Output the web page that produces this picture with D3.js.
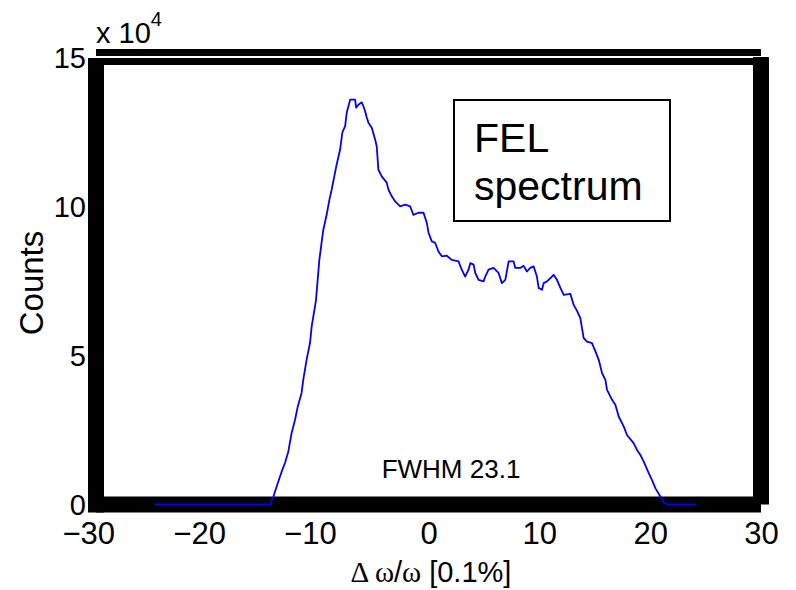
<!DOCTYPE html>
<html>
<head>
<meta charset="utf-8">
<title>FEL spectrum</title>
<script src="https://cdn.jsdelivr.net/npm/d3@7"></script>
<style>
  body { margin: 0; background: #fff; }
  text { font-family: Helvetica, "Liberation Sans", Arial, sans-serif; fill: #000; }
</style>
</head>
<body>
<div id="chart"></div>
<script>
// spectrum, x in 0.1% units, counts in units of 1e4
const specX = [-24.7, -14.3, -14.0, -13.55, -13.25, -12.95, -12.65, -12.35, -12.04, -11.8, -11.45, -11.3, -11.0,
  -10.69, -10.54, -10.24, -10.15, -9.85, -9.49, -9.19, -8.94, -8.74, -8.5, -8.29, -7.98, -7.77, -7.52, -7.38,
  -7.07, -6.62, -6.53, -6.32, -6.03, -5.87, -5.72, -5.57, -5.42, -5.12, -4.81, -4.67, -4.52, -4.22, -3.77,
  -3.61, -3.31, -3.01, -2.56, -2.1, -1.65, -1.36, -0.9, -0.45, -0.15, 0, 0.3, 0.6, 0.9, 1.2, 1.65, 2.1, 2.71,
  3.0, 3.31, 3.61, 3.77, 4.07, 4.22, 4.52, 4.97, 5.12, 5.42, 5.87, 6.32, 6.62, 6.93, 7.23, 7.68, 7.83, 8.28,
  8.58, 8.88, 9.18, 9.49, 9.78, 9.94, 10.24, 10.39, 10.69, 11.0, 11.29, 11.59, 11.9, 12.2, 12.8, 13.1, 13.4,
  13.7, 13.85, 14.0, 14.3, 14.75, 15.06, 15.36, 15.66, 15.96, 16.11, 16.56, 16.86, 17.16, 17.62, 17.91, 18.52,
  18.81, 19.12, 19.42, 19.87, 20.17, 20.48, 20.93, 21.23, 21.53, 24.1];
const specY = [0, 0, 0.26, 0.77, 1.10, 1.39, 1.77, 2.40, 2.84, 3.28, 3.74, 4.18, 4.85,
  5.42, 5.97, 6.64, 6.86, 8.2, 9.21, 9.71, 10.22, 10.55, 11.0, 11.39, 11.89, 12.47, 12.68, 13.13,
  13.57, 13.57, 13.3, 13.4, 13.48, 13.35, 13.18, 12.97, 12.8, 12.63, 12.23, 12.0, 11.22, 11.0, 10.79,
  10.55, 10.33, 10.16, 9.99, 10.05, 9.99, 9.71, 9.78, 9.78, 9.44, 9.11, 8.82, 8.77, 8.48, 8.32, 8.34, 8.2, 8.15,
  7.87, 7.64, 7.87, 8.09, 8.04, 7.76, 7.53, 7.48, 7.64, 7.87, 7.93, 7.76, 7.42, 7.53, 8.15, 8.15, 7.93, 7.93,
  8.0, 7.81, 7.93, 7.98, 7.64, 7.26, 7.2, 7.42, 7.48, 7.59, 7.7, 7.53, 7.26, 7.03, 7.06, 6.69, 6.49,
  6.25, 5.91, 5.58, 5.46, 5.41, 5.13, 4.85, 4.4, 4.18, 3.84, 3.51, 3.34, 2.95, 2.61, 2.33, 2.05,
  1.83, 1.66, 1.44, 1.05, 0.82, 0.54, 0.26, 0.06, 0, 0];

const xTicks = [-30, -20, -10, 0, 10, 20, 30];
const yTicks = [0, 5, 10, 15];
const legendLines = ["FEL", "spectrum"];
const fwhmText = "FWHM 23.1";

const W = 796, H = 590;
const lw = 16; // the very fat axes line

const svg = d3.select("#chart").append("svg")
  .attr("width", W).attr("height", H);

const x = d3.scaleLinear().domain([-30, 30]).range([96, 761]);
const y = d3.scaleLinear().domain([0, 15]).range([504.5, 57]);

// axes box - drawn as filled bars, top edge has that odd split in it
function bar(x0, y0, x1, y1) {
  svg.append("rect")
    .attr("x", x0).attr("y", y0)
    .attr("width", x1 - x0).attr("height", y1 - y0)
    .attr("fill", "#000");
}
const L = x(-30), R = x(30), T = y(15), B = y(0);
bar(L, T - lw / 2, R, T - 1);              // top, upper half
bar(L - lw / 2, T + 1, R, T + lw / 2);     // top, lower half
bar(L - lw / 2, T + 1, L + lw / 2, B + lw / 2); // left
bar(R - lw / 2, T, R + lw / 2, B);         // right
bar(L, B - lw / 2, R, B + lw / 2);         // bottom

// x axis labels
const xAxis = d3.axisBottom(x).tickValues(xTicks).tickSize(0);
const gx = svg.append("g").attr("transform", `translate(0,${B})`).call(xAxis);
gx.select(".domain").remove();
gx.selectAll("text")
  .attr("y", 39).attr("dy", null)
  .attr("dx", d => d < 0 ? "-0.25em" : null)
  .style("font-size", "31px")
  .style("font-family", 'Helvetica, "Liberation Sans", Arial, sans-serif');

// y axis labels
const yAxis = d3.axisLeft(y).tickValues(yTicks).tickSize(0).tickFormat(d3.format("d"));
const gy = svg.append("g").attr("transform", `translate(${L},0)`).call(yAxis);
gy.select(".domain").remove();
gy.selectAll("text")
  .attr("x", -10).attr("dy", "0.36em")
  .style("font-size", "29px")
  .style("font-family", 'Helvetica, "Liberation Sans", Arial, sans-serif');

// exponent
const ex = svg.append("text").attr("x", 96).attr("y", 43).style("font-size", "29px");
ex.append("tspan").text("x 10");
ex.append("tspan").attr("dy", -17).style("font-size", "20px").text("4");

// axis titles
svg.append("text")
  .attr("transform", "translate(43,283) rotate(-90)")
  .attr("text-anchor", "middle")
  .style("font-size", "33px")
  .text("Counts");

const xl = svg.append("text")
  .attr("x", 431).attr("y", 582)
  .attr("text-anchor", "middle")
  .style("font-size", "29px");
const serif = '"Liberation Serif", "DejaVu Serif", serif';
xl.append("tspan").style("font-family", serif).text("\u0394 \u03C9");
xl.append("tspan").text("/");
xl.append("tspan").style("font-family", serif).text("\u03C9");
xl.append("tspan").text(" [0.1%]");

// the spectrum itself
const pts = specX.map((v, i) => [v, specY[i]]);
const line = d3.line().x(d => x(d[0])).y(d => y(d[1]));
svg.append("path")
  .datum(pts)
  .attr("d", line)
  .attr("fill", "none")
  .attr("stroke", "#0000ff")
  .attr("stroke-width", 1.8)
  .attr("stroke-linejoin", "round");

// annotation box
svg.append("rect")
  .attr("x", 454).attr("y", 100)
  .attr("width", 216).attr("height", 121)
  .attr("fill", "#fff").attr("stroke", "#000").attr("stroke-width", 2);
svg.selectAll(".leg")
  .data(legendLines)
  .enter().append("text")
  .attr("class", "leg")
  .attr("x", 474)
  .attr("y", (d, i) => 152 + i * 48)
  .style("font-size", "41px")
  .text(d => d);

svg.append("text")
  .attr("x", 451).attr("y", 478)
  .attr("text-anchor", "middle")
  .style("font-size", "26px")
  .text(fwhmText);
</script>
</body>
</html>
